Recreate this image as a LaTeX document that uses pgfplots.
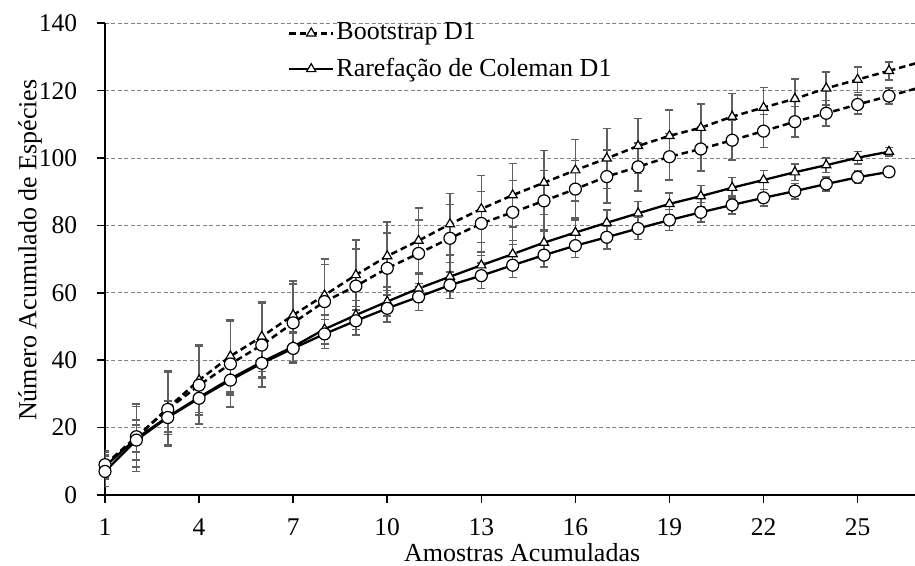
\documentclass[border=0pt]{standalone}
\usepackage{fontspec}
\setmainfont{Liberation Serif}
\usepackage{pgfplots}
\pgfplotsset{compat=1.18}
\usepackage{pgfplotstable}

\pgfplotstableread{
x y e
1 8.8 4
2 17.0 10
3 25.8 11
4 34.1 10.4
5 41.2 10.7
6 47.0 10.4
7 53.4 10.2
8 59.3 10.8
9 65.3 10.4
10 70.9 10.2
11 75.5 9.6
12 80.4 9.1
13 84.9 9.9
14 89.0 9.4
15 92.7 9.5
16 96.4 9.1
17 99.9 8.9
18 103.6 8.2
19 106.6 7.6
20 109.0 7.0
21 112.3 6.9
22 115.0 6.0
23 117.6 5.8
24 120.7 4.9
25 123.3 3.8
26 125.9 2.7
}\bootA

\pgfplotstableread{
x y e
1 9.0 4
2 17.3 9
3 25.4 11
4 32.6 11.5
5 38.9 12.7
6 44.5 12.5
7 51.1 11.5
8 57.4 11
9 62.0 11
10 67.3 10.5
11 71.7 10
12 76.2 10
13 80.6 9.5
14 83.9 9.5
15 87.3 9
16 90.8 8.5
17 94.5 7.9
18 97.4 7.1
19 100.4 6.9
20 102.7 6.5
21 105.3 5.9
22 108.0 4.9
23 110.8 4.5
24 113.3 3.8
25 115.9 2.8
26 118.4 2.4
}\bootB

\pgfplotstableread{
x y e
1 8.5 3.5
2 16.8 4
3 23.2 4.5
4 29.0 4.5
5 34.5 4.5
6 39.5 4.5
7 44.0 4.5
8 49.2 4.3
9 53.4 4.3
10 57.4 4.3
11 61.3 4.2
12 64.8 4.2
13 68.2 4.0
14 71.5 4.0
15 74.9 3.9
16 77.9 3.8
17 80.8 3.7
18 83.6 3.5
19 86.4 3.3
20 88.7 3.2
21 91.2 3.0
22 93.5 2.8
23 95.8 2.5
24 97.9 2.2
25 100.1 1.8
26 101.9 1.2
}\rareA

\pgfplotstableread{
x y e
1 7.0 4.5
2 16.3 6
3 23.0 5
4 28.7 4.8
5 34.1 4.5
6 39.1 4.5
7 43.5 4.5
8 47.8 4.3
9 51.7 4.2
10 55.4 4.0
11 58.8 4.0
12 62.3 4.0
13 65.1 3.8
14 68.2 3.7
15 71.2 3.6
16 74.0 3.5
17 76.5 3.4
18 79.1 3.3
19 81.6 3.1
20 83.9 2.9
21 86.1 2.7
22 88.2 2.5
23 90.2 2.3
24 92.3 2.1
25 94.3 1.8
26 95.9 1.2
}\rareB

\definecolor{errgray}{RGB}{95,95,95}
\definecolor{gridgray}{RGB}{130,130,130}

\pgfplotsset{
  ebar/.style={error bars/.cd, y dir=both, y explicit,
    error bar style={solid, line width=1.6pt, color=errgray},
    error mark options={solid, rotate=90, mark size=4pt, line width=1.6pt, color=errgray}},
  dashline/.style={black, line width=2.5pt, dash pattern=on 6.5pt off 4pt},
  solidline/.style={black, line width=2.3pt},
}

\begin{document}
\fontsize{26}{31}\selectfont
\begin{tikzpicture}
\begin{axis}[
  at={(0,0)}, anchor=south west,
  scale only axis, width=810pt, height=471.7pt,
  xmin=1, xmax=26.83, ymin=0, ymax=140,
  axis x line=bottom, axis y line=left,
  axis line style={-, line width=1.6pt, black},
  xtick={1,4,...,25}, ytick={0,20,...,140},
  tick align=outside, major tick length=8pt,
  tick style={line width=1.6pt, black},
  ymajorgrids, grid style={dash pattern=on 4pt off 2.5pt, color=gridgray, line width=1pt},
  tick label style={font=\fontsize{25.5}{30}\selectfont},
  yticklabel style={xshift=-11pt},
  xticklabel style={yshift=-7pt},
  /pgf/number format/assume math mode=true,
  xlabel={Amostras Acumuladas},
  ylabel={Número Acumulado de Espécies},
  xlabel style={at={(axis description cs:0.515,0)}, anchor=base, yshift=-66pt, font=\fontsize{26}{31}\selectfont},
  ylabel style={at={(axis description cs:-0.0926,0.519)}, anchor=center, font=\fontsize{26}{31}\selectfont},
  legend style={at={(axis description cs:0.222,1.01)}, anchor=north west, draw=none, fill=none,
    font=\fontsize{26}{31}\selectfont, row sep=10pt, cells={anchor=west}},
  legend image post style={line width=2.4pt},
  legend image code/.code={\draw[mark repeat=2,mark phase=2,#1] plot coordinates {(0pt,0pt) (22pt,0pt) (44pt,0pt)};},
]
\addplot[dashline, mark=triangle*, mark size=5.3pt, mark options={solid, fill=white, draw=black, line width=1.2pt}, ebar]
  table[x=x, y=y, y error=e] {\bootA};
\addlegendentry{Bootstrap D1}
\addplot[solidline, mark=triangle*, mark size=5.3pt, mark options={solid, fill=white, draw=black, line width=1.2pt}, ebar]
  table[x=x, y=y, y error=e] {\rareA};
\addlegendentry{Rarefação de Coleman D1}
\addplot[forget plot, dashline, mark=*, mark size=6pt, mark options={solid, fill=white, draw=black, line width=1.2pt}, ebar]
  table[x=x, y=y, y error=e] {\bootB};
\addplot[forget plot, solidline, mark=*, mark size=6pt, mark options={solid, fill=white, draw=black, line width=1.2pt}, ebar]
  table[x=x, y=y, y error=e] {\rareB};
\addplot[forget plot, dashline] coordinates {(26,125.9) (27,128.5)};
\addplot[forget plot, dashline] coordinates {(26,118.4) (27,121.0)};
\end{axis}
\pgfresetboundingbox
\useasboundingbox (-105pt,-70pt) rectangle (810pt,495pt);
\end{tikzpicture}
\end{document}
